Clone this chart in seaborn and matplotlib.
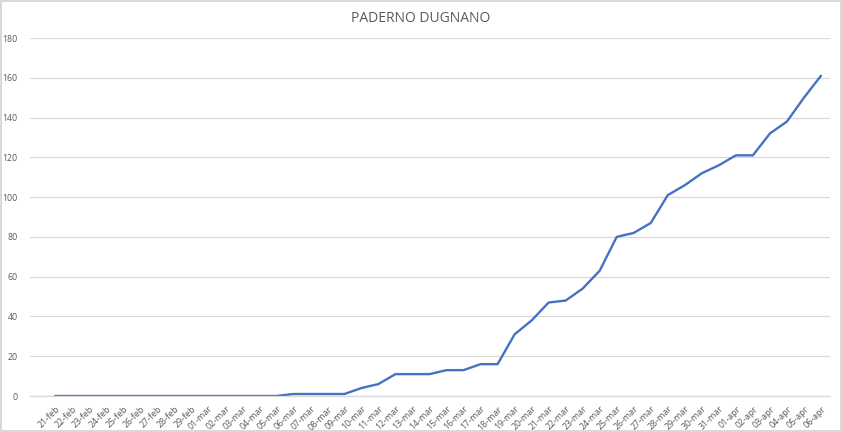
import numpy as np
import pandas as pd
import matplotlib
matplotlib.use("Agg")
import matplotlib.pyplot as plt
import seaborn as sns

# daily cumulative cases, 21-feb .. 06-apr
days = (["%02d-feb" % d for d in range(21, 30)]
        + ["%02d-mar" % d for d in range(1, 32)]
        + ["%02d-apr" % d for d in range(1, 7)])
cases = [0, 0, 0, 0, 0, 0, 0, 0, 0,
         0, 0, 0, 0, 0, 1, 1, 1, 1, 4, 6, 11, 11, 11, 13, 13, 16, 16,
         31, 38, 47, 48, 54, 63, 80, 82, 87, 101, 106, 112, 116,
         121, 121, 132, 138, 150, 161]
y_ticks = list(range(0, 181, 20))

df = pd.DataFrame({"pos": np.arange(len(days)), "giorno": days, "casi": cases})

sns.set_style("white")
plt.rcParams["font.family"] = ["Open Sans", "DejaVu Sans"]

grey = "#595959"
fig = plt.figure(figsize=(8.42, 4.32), dpi=100)
fig.patch.set_edgecolor("#d9d9d9")
fig.patch.set_linewidth(1.5)
ax = fig.add_axes([30 / 842, 1 - 396 / 432, 800 / 842, (396 - 38) / 432])

sns.lineplot(data=df, x="pos", y="casi", ax=ax, color="#4472C4", linewidth=1.7)

ax.set_xlim(-1.47, len(days) - 0.47)
ax.set_ylim(0, 180)
ax.set_yticks(y_ticks)
ax.set_yticklabels([str(v) for v in y_ticks], fontsize=6.3, color=grey)
ax.yaxis.grid(True, color="#d9d9d9", linewidth=0.9)
ax.tick_params(axis="y", length=0, pad=9)

ax.set_xticks(df["pos"])
ax.set_xticklabels(days, rotation=45, ha="right", rotation_mode="anchor",
                   fontsize=6.4, color=grey)
ax.tick_params(axis="x", length=0, pad=6)
ax.set_xticks(list(np.arange(len(days) + 1) - 0.5) + [-1.47], minor=True)
ax.tick_params(axis="x", which="minor", length=3, color="#d9d9d9", width=0.9)

for s in ["top", "right", "left"]:
    ax.spines[s].set_visible(False)
ax.spines["bottom"].set_color("#d9d9d9")
ax.spines["bottom"].set_linewidth(0.9)
ax.set_xlabel("")
ax.set_ylabel("")

fig.text(0.5, 1 - 18 / 432, "PADERNO DUGNANO", ha="center", va="center",
         fontsize=10, color=grey)

fig.savefig("out.png", dpi=100, facecolor="white", edgecolor=fig.patch.get_edgecolor())
